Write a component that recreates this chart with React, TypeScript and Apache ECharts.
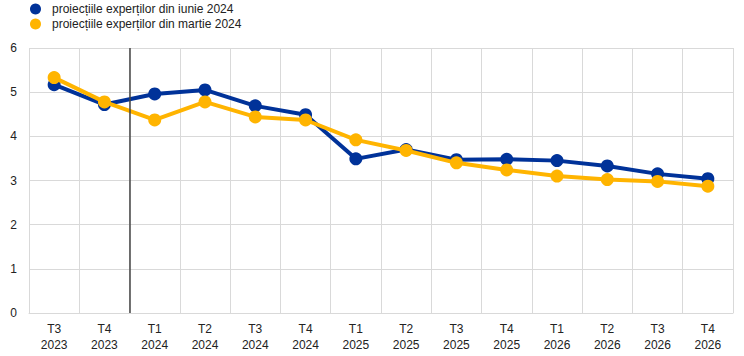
import React, { useEffect, useRef } from "react";
import * as echarts from "echarts";

const categories = ["T3\n2023", "T4\n2023", "T1\n2024", "T2\n2024", "T3\n2024", "T4\n2024", "T1\n2025", "T2\n2025", "T3\n2025", "T4\n2025", "T1\n2026", "T2\n2026", "T3\n2026", "T4\n2026"];
const juneName = "proiecțiile experților din iunie 2024";
const marchName = "proiecțiile experților din martie 2024";
const juneValues = [5.17, 4.72, 4.96, 5.05, 4.69, 4.49, 3.49, 3.7, 3.47, 3.48, 3.45, 3.33, 3.15, 3.04];
const marchValues = [5.33, 4.78, 4.37, 4.78, 4.44, 4.37, 3.92, 3.68, 3.4, 3.24, 3.1, 3.02, 2.98, 2.87];
const cutoffPosition = 2; // boundary between T4 2023 and T1 2024

export default function App() {
  const ref = useRef<HTMLDivElement>(null);
  useEffect(() => {
    if (!ref.current) return;
    const chart = echarts.init(ref.current, undefined, { renderer: "svg" });
    const font = "Arial, 'Liberation Sans', sans-serif";
    chart.setOption({
      animation: false,
      textStyle: { fontFamily: font },
      legend: {
        orient: "vertical",
        left: 30,
        top: 3,
        padding: 0,
        itemWidth: 11,
        itemHeight: 11,
        itemGap: 3,
        icon: "circle",
        textStyle: { fontSize: 12, color: "#222", fontFamily: font, padding: [0, 0, 0, 6] },
        data: [juneName, marchName],
      },
      grid: { left: 29, right: 11, top: 48, bottom: 43 },
      xAxis: [
        {
          type: "category",
          data: categories,
          boundaryGap: true,
          axisLine: { show: true, lineStyle: { color: "#d9d9d9", width: 1 } },
          axisTick: { show: false },
          splitLine: { show: true, lineStyle: { color: "#d9d9d9", width: 1 } },
          axisLabel: { color: "#222", fontSize: 12, fontFamily: font, lineHeight: 16, margin: 8 },
        },
        {
          type: "value",
          min: 0,
          max: categories.length,
          show: false,
        },
      ],
      yAxis: {
        type: "value",
        min: 0,
        max: 6,
        interval: 1,
        axisLine: { show: false },
        axisTick: { show: false },
        splitLine: { show: true, lineStyle: { color: "#d9d9d9", width: 1 } },
        axisLabel: { color: "#222", fontSize: 12, fontFamily: font, margin: 12 },
      },
      series: [
        {
          name: juneName,
          type: "line",
          data: juneValues,
          color: "#003299",
          lineStyle: { width: 4, color: "#003299" },
          symbol: "circle",
          symbolSize: 13,
          itemStyle: { color: "#003299" },
          z: 2,
        },
        {
          name: marchName,
          type: "line",
          data: marchValues,
          color: "#FFB400",
          lineStyle: { width: 4, color: "#FFB400" },
          symbol: "circle",
          symbolSize: 13,
          itemStyle: { color: "#FFB400" },
          z: 3,
        },
        {
          name: "cutoff",
          type: "line",
          xAxisIndex: 1,
          data: [],
          markLine: {
            silent: true,
            symbol: "none",
            label: { show: false },
            lineStyle: { color: "#444", width: 1.5, type: "solid" },
            data: [{ xAxis: cutoffPosition }],
          },
        },
      ],
    });
    return () => chart.dispose();
  }, []);
  return <div ref={ref} style={{ width: 744, height: 356, position: "absolute", left: 0, top: 0 }} />;
}
